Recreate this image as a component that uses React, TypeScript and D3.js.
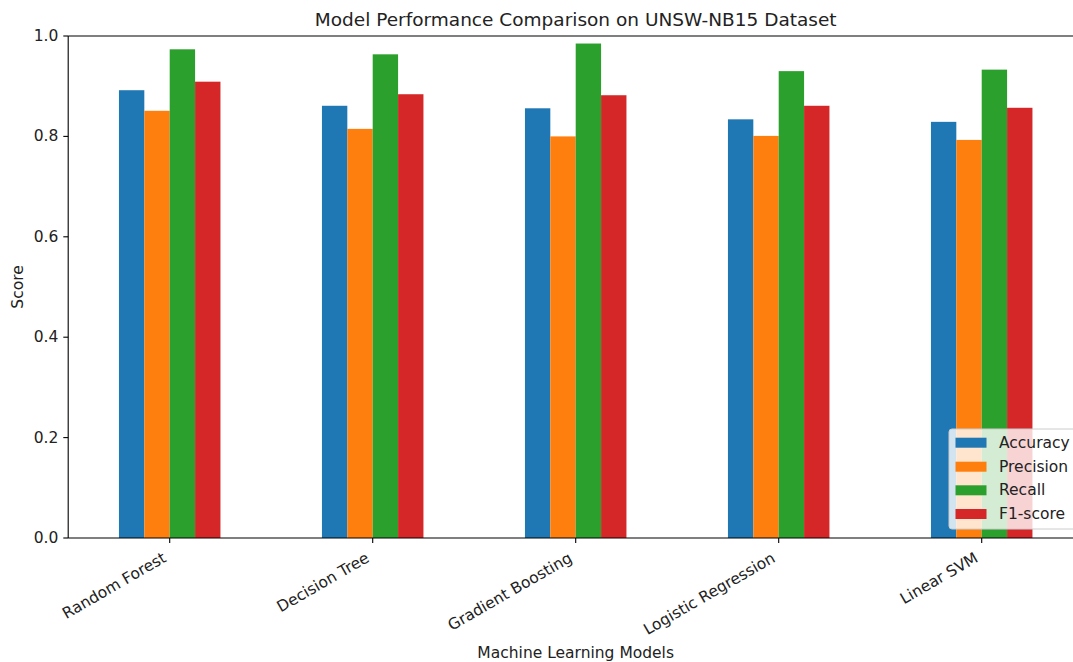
import React from "react";
import * as d3 from "d3";

const models = ["Random Forest", "Decision Tree", "Gradient Boosting", "Logistic Regression", "Linear SVM"];
const metrics = ["Accuracy", "Precision", "Recall", "F1-score"];
const accuracy = [0.892, 0.861, 0.856, 0.834, 0.829];
const precision = [0.851, 0.815, 0.800, 0.801, 0.793];
const recall = [0.9735, 0.9635, 0.985, 0.930, 0.933];
const f1score = [0.909, 0.884, 0.882, 0.861, 0.857];
const yTicks = [0.0, 0.2, 0.4, 0.6, 0.8, 1.0];
const colors = ["#1f77b4", "#ff7f0e", "#2ca02c", "#d62728"];

const seriesValues = [accuracy, precision, recall, f1score];

const W = 1073;
const H = 662;
const left = 68.2;
const right = 1083.2;
const top = 36;
const bottom = 538;
const FONT = "DejaVu Sans, sans-serif";
const FS = 15.5;

export default function App() {
  const x = d3.scaleLinear().domain([-0.5, models.length - 0.5]).range([left, right]);
  const y = d3.scaleLinear().domain([0, 1]).range([bottom, top]);
  const barW = 0.125;
  const tickLen = 4.9;

  const legendRight = right - 7;
  const legendLeft = 949;
  const legendTop = 429;
  const legendBottom = 529;
  const rowY = [442.7, 466.7, 490.3, 514];

  return (
    <div style={{ position: "absolute", left: 0, top: 0 }}>
      <svg width={W} height={H} style={{ display: "block", background: "#fff" }}>
        <rect x={0} y={0} width={W} height={H} fill="#fff" />
        {/* bars */}
        {seriesValues.map((vals, si) => (
          <g key={metrics[si]}>
            {vals.map((v, ci) => {
              const x0 = x(ci + (si - 1.5) * barW - barW / 2);
              const x1 = x(ci + (si - 1.5) * barW + barW / 2);
              return (
                <rect
                  key={ci}
                  x={x0}
                  y={y(v)}
                  width={x1 - x0}
                  height={y(0) - y(v)}
                  fill={colors[si]}
                />
              );
            })}
          </g>
        ))}
        {/* spines */}
        <line x1={left} x2={left} y1={top} y2={bottom} stroke="#000" strokeWidth={1.1} />
        <line x1={left} x2={right} y1={bottom} y2={bottom} stroke="#000" strokeWidth={1.1} />
        <line x1={left} x2={right} y1={top} y2={top} stroke="#000" strokeWidth={1.1} />
        <line x1={right} x2={right} y1={top} y2={bottom} stroke="#000" strokeWidth={1.1} />
        {/* y ticks */}
        {yTicks.map((t) => (
          <g key={t}>
            <line x1={left - tickLen} x2={left} y1={y(t)} y2={y(t)} stroke="#000" strokeWidth={1.1} />
            <text
              x={left - tickLen - 4.9}
              y={y(t)}
              textAnchor="end"
              dominantBaseline="central"
              fontFamily={FONT}
              fontSize={FS}
              fill="#222"
            >
              {t.toFixed(1)}
            </text>
          </g>
        ))}
        {/* x ticks */}
        {models.map((m, i) => (
          <g key={m}>
            <line x1={x(i)} x2={x(i)} y1={bottom} y2={bottom + tickLen} stroke="#000" strokeWidth={1.1} />
            <text
              transform={`translate(${x(i) - 2.5},${bottom + 23}) rotate(-30)`}
              textAnchor="end"
              fontFamily={FONT}
              fontSize={FS}
              fill="#222"
            >
              {m}
            </text>
          </g>
        ))}
        {/* legend */}
        <rect
          x={legendLeft}
          y={legendTop}
          width={legendRight - legendLeft}
          height={legendBottom - legendTop}
          rx={3}
          fill="#fff"
          fillOpacity={0.8}
          stroke="#cccccc"
          strokeWidth={1}
        />
        {metrics.map((m, i) => (
          <g key={m}>
            <rect x={955.5} y={rowY[i] - 5} width={31} height={10} fill={colors[i]} />
            <text
              x={999}
              y={rowY[i]}
              dominantBaseline="central"
              fontFamily={FONT}
              fontSize={FS}
              fill="#222"
            >
              {m}
            </text>
          </g>
        ))}
        {/* title & labels */}
        <text
          x={(left + right) / 2}
          y={19}
          textAnchor="middle"
          dominantBaseline="central"
          fontFamily={FONT}
          fontSize={18.5}
          fill="#222"
        >
          Model Performance Comparison on UNSW-NB15 Dataset
        </text>
        <text
          x={(left + right) / 2}
          y={653}
          textAnchor="middle"
          dominantBaseline="central"
          fontFamily={FONT}
          fontSize={FS}
          fill="#222"
        >
          Machine Learning Models
        </text>
        <text
          transform={`translate(18,${(top + bottom) / 2}) rotate(-90)`}
          textAnchor="middle"
          dominantBaseline="central"
          fontFamily={FONT}
          fontSize={FS}
          fill="#222"
        >
          Score
        </text>
      </svg>
    </div>
  );
}
